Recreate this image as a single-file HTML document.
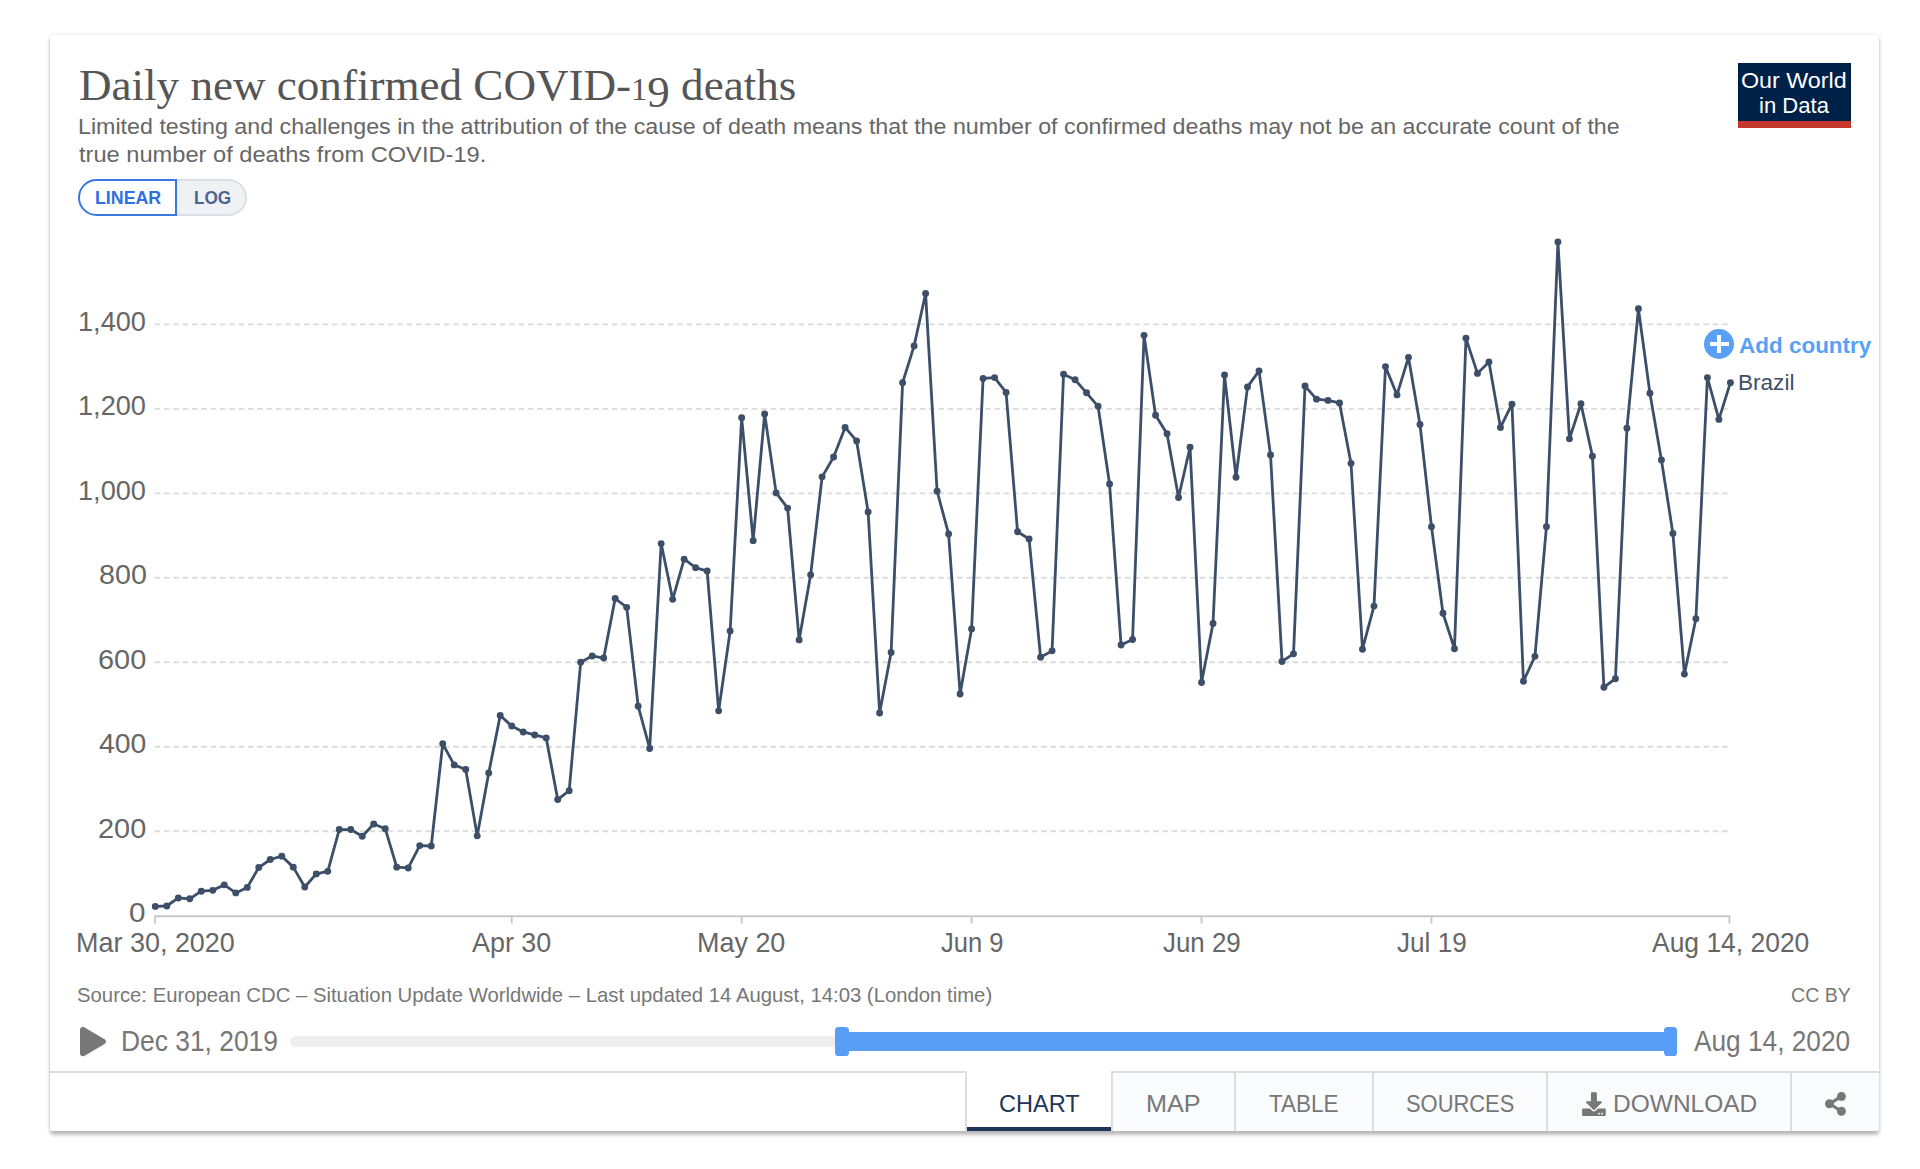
<!DOCTYPE html>
<html lang="en"><head><meta charset="utf-8"><title>Daily new confirmed COVID-19 deaths</title>
<style>
html,body{margin:0;padding:0;background:#fff;}
body{width:1920px;height:1169px;position:relative;overflow:hidden;font-family:"Liberation Sans", "DejaVu Sans", sans-serif;}
.card{position:absolute;left:50px;top:35px;width:1829px;height:1096px;background:#fff;border-radius:3.5px;
  box-shadow:0 0 3.7px rgba(0,0,0,.12),0 3.7px 3.7px rgba(0,0,0,.25);}
.t{position:absolute;white-space:nowrap;line-height:1;transform-origin:0 50%;display:block;font-family:"Liberation Sans", "DejaVu Sans", sans-serif;font-weight:400;}
.t.serif{font-family:"Liberation Serif", "DejaVu Serif", serif;}
.t.b{font-weight:700;}
.o1{font-size:.72em}.o9{position:relative;top:.15em}
.logo{position:absolute;left:1738px;top:63px;width:113px;height:58px;background:#002147;border-bottom:7px solid #c5372c;}
.tog{position:absolute;top:179px;height:36.5px;box-sizing:border-box;}
.tog.lin{left:78px;width:99px;border:2px solid #3a78e0;border-radius:18.5px 0 0 18.5px;background:#fff;}
.tog.log{left:177px;width:69.5px;border:2px solid #dcdee3;border-left:none;border-radius:0 18.5px 18.5px 0;background:#eff1f5;}
.addc{position:absolute;left:1704px;top:329px;width:30px;height:30px;border-radius:50%;background:#589ff6;}
.addc:before{content:"";position:absolute;left:5.7px;top:12.95px;width:19.3px;height:4.15px;background:#fff;}
.addc:after{content:"";position:absolute;left:12.9px;top:5.8px;width:4.15px;height:18.3px;background:#fff;}
.track{position:absolute;left:290px;top:1036.1px;width:1380px;height:10.8px;border-radius:5.4px;background:#eee;}
.range{position:absolute;left:842px;top:1032px;width:829px;height:19px;background:#589ef7;}
.handle{position:absolute;top:1027px;width:13.7px;height:28.9px;border-radius:3.6px;background:#589ef7;}
.tabs{position:absolute;left:50px;top:1071px;width:1829px;height:60px;border-radius:0 0 3.5px 3.5px;overflow:hidden;}
.tabfill{position:absolute;left:0;top:0;width:917px;height:60px;box-sizing:border-box;border-top:2px solid #ddd;border-right:2px solid #ddd;border-top-right-radius:2px;background:#fff;}
.tab{position:absolute;top:0;height:60px;background:#fafbfc;border-left:2px solid #ddd;border-top:2px solid #ddd;box-sizing:border-box;}
.tab.active{background:#fff;border:none;}
.tab.active:after{content:"";position:absolute;left:0;right:0;bottom:0;height:3.8px;background:#1d3557;}
svg.chart{position:absolute;left:0;top:0;}
</style></head><body>
<div class="card"></div>
<div class="logo"></div>
<div class="tog lin"></div><div class="tog log"></div>
<svg class="chart" width="1920" height="1169" viewBox="0 0 1920 1169">
<line x1="154.7" y1="831.23" x2="1730.0" y2="831.23" stroke="#dcdcdc" stroke-width="1.87" stroke-dasharray="5.6 3.73"/>
<line x1="154.7" y1="746.75" x2="1730.0" y2="746.75" stroke="#dcdcdc" stroke-width="1.87" stroke-dasharray="5.6 3.73"/>
<line x1="154.7" y1="662.28" x2="1730.0" y2="662.28" stroke="#dcdcdc" stroke-width="1.87" stroke-dasharray="5.6 3.73"/>
<line x1="154.7" y1="577.80" x2="1730.0" y2="577.80" stroke="#dcdcdc" stroke-width="1.87" stroke-dasharray="5.6 3.73"/>
<line x1="154.7" y1="493.33" x2="1730.0" y2="493.33" stroke="#dcdcdc" stroke-width="1.87" stroke-dasharray="5.6 3.73"/>
<line x1="154.7" y1="408.86" x2="1730.0" y2="408.86" stroke="#dcdcdc" stroke-width="1.87" stroke-dasharray="5.6 3.73"/>
<line x1="154.7" y1="324.38" x2="1730.0" y2="324.38" stroke="#dcdcdc" stroke-width="1.87" stroke-dasharray="5.6 3.73"/>
<line x1="154.0" y1="916.30" x2="1730.3" y2="916.30" stroke="#c8c8c8" stroke-width="1.87"/>
<line x1="154.90" y1="916.30" x2="154.90" y2="923.50" stroke="#c8c8c8" stroke-width="1.87"/>
<line x1="511.71" y1="916.30" x2="511.71" y2="923.50" stroke="#c8c8c8" stroke-width="1.87"/>
<line x1="741.65" y1="916.30" x2="741.65" y2="923.50" stroke="#c8c8c8" stroke-width="1.87"/>
<line x1="971.59" y1="916.30" x2="971.59" y2="923.50" stroke="#c8c8c8" stroke-width="1.87"/>
<line x1="1201.53" y1="916.30" x2="1201.53" y2="923.50" stroke="#c8c8c8" stroke-width="1.87"/>
<line x1="1431.48" y1="916.30" x2="1431.48" y2="923.50" stroke="#c8c8c8" stroke-width="1.87"/>
<line x1="1729.50" y1="916.30" x2="1729.50" y2="923.50" stroke="#c8c8c8" stroke-width="1.87"/>
<path d="M155.30 906.41 L166.80 905.99 L178.29 897.96 L189.79 898.81 L201.29 891.20 L212.79 890.36 L224.28 884.87 L235.78 892.89 L247.28 887.40 L258.77 867.55 L270.27 859.52 L281.77 856.15 L293.26 867.13 L304.76 886.98 L316.26 873.89 L327.76 871.35 L339.25 829.54 L350.75 829.54 L362.25 836.29 L373.74 824.05 L385.24 828.69 L396.74 867.13 L408.24 867.97 L419.73 845.59 L431.23 846.01 L442.73 743.80 L454.22 764.91 L465.72 769.56 L477.22 835.87 L488.72 772.94 L500.21 715.50 L511.71 726.06 L523.21 731.97 L534.70 734.93 L546.20 737.88 L557.70 799.55 L569.19 790.68 L580.69 662.28 L592.19 655.94 L603.69 658.05 L615.18 598.50 L626.68 607.37 L638.18 706.20 L649.67 748.44 L661.17 543.59 L672.67 599.34 L684.17 559.22 L695.66 567.67 L707.16 571.05 L718.66 710.85 L730.15 631.02 L741.65 417.73 L753.15 540.64 L764.65 413.92 L776.14 492.91 L787.64 508.11 L799.14 639.89 L810.63 574.85 L822.13 476.86 L833.63 457.01 L845.12 427.44 L856.62 440.96 L868.12 511.91 L879.62 712.96 L891.11 652.56 L902.61 382.67 L914.11 345.92 L925.60 293.55 L937.10 491.22 L948.60 533.88 L960.10 693.96 L971.59 628.91 L983.09 378.45 L994.59 377.60 L1006.08 392.38 L1017.58 531.77 L1029.08 538.95 L1040.58 657.21 L1052.07 650.87 L1063.57 374.22 L1075.07 379.71 L1086.56 392.81 L1098.06 406.32 L1109.56 484.04 L1121.05 644.96 L1132.55 639.47 L1144.05 335.36 L1155.55 415.19 L1167.04 433.78 L1178.54 497.55 L1190.04 447.29 L1201.53 682.55 L1213.03 623.42 L1224.53 375.07 L1236.03 477.28 L1247.52 386.89 L1259.02 370.84 L1270.52 454.89 L1282.01 661.43 L1293.51 653.83 L1305.01 386.05 L1316.51 399.14 L1328.00 400.41 L1339.50 402.94 L1351.00 463.34 L1362.49 649.18 L1373.99 606.10 L1385.49 366.62 L1396.98 394.92 L1408.48 357.33 L1419.98 424.48 L1431.48 526.70 L1442.97 613.28 L1454.47 648.76 L1465.97 338.32 L1477.46 373.38 L1488.96 361.97 L1500.46 427.44 L1511.96 404.21 L1523.45 681.28 L1534.95 656.36 L1546.45 526.70 L1557.94 242.02 L1569.44 438.84 L1580.94 403.79 L1592.44 456.16 L1603.93 687.20 L1615.43 678.75 L1626.93 428.29 L1638.42 308.75 L1649.92 393.23 L1661.42 459.96 L1672.91 533.46 L1684.41 674.10 L1695.91 618.77 L1707.41 377.60 L1718.90 419.42 L1730.40 382.67" fill="none" stroke="#3d4e68" stroke-width="2.8" stroke-linejoin="round" stroke-linecap="round"/>
<g fill="#3d4e68"><circle cx="155.30" cy="906.41" r="3.45"/><circle cx="166.80" cy="905.99" r="3.45"/><circle cx="178.29" cy="897.96" r="3.45"/><circle cx="189.79" cy="898.81" r="3.45"/><circle cx="201.29" cy="891.20" r="3.45"/><circle cx="212.79" cy="890.36" r="3.45"/><circle cx="224.28" cy="884.87" r="3.45"/><circle cx="235.78" cy="892.89" r="3.45"/><circle cx="247.28" cy="887.40" r="3.45"/><circle cx="258.77" cy="867.55" r="3.45"/><circle cx="270.27" cy="859.52" r="3.45"/><circle cx="281.77" cy="856.15" r="3.45"/><circle cx="293.26" cy="867.13" r="3.45"/><circle cx="304.76" cy="886.98" r="3.45"/><circle cx="316.26" cy="873.89" r="3.45"/><circle cx="327.76" cy="871.35" r="3.45"/><circle cx="339.25" cy="829.54" r="3.45"/><circle cx="350.75" cy="829.54" r="3.45"/><circle cx="362.25" cy="836.29" r="3.45"/><circle cx="373.74" cy="824.05" r="3.45"/><circle cx="385.24" cy="828.69" r="3.45"/><circle cx="396.74" cy="867.13" r="3.45"/><circle cx="408.24" cy="867.97" r="3.45"/><circle cx="419.73" cy="845.59" r="3.45"/><circle cx="431.23" cy="846.01" r="3.45"/><circle cx="442.73" cy="743.80" r="3.45"/><circle cx="454.22" cy="764.91" r="3.45"/><circle cx="465.72" cy="769.56" r="3.45"/><circle cx="477.22" cy="835.87" r="3.45"/><circle cx="488.72" cy="772.94" r="3.45"/><circle cx="500.21" cy="715.50" r="3.45"/><circle cx="511.71" cy="726.06" r="3.45"/><circle cx="523.21" cy="731.97" r="3.45"/><circle cx="534.70" cy="734.93" r="3.45"/><circle cx="546.20" cy="737.88" r="3.45"/><circle cx="557.70" cy="799.55" r="3.45"/><circle cx="569.19" cy="790.68" r="3.45"/><circle cx="580.69" cy="662.28" r="3.45"/><circle cx="592.19" cy="655.94" r="3.45"/><circle cx="603.69" cy="658.05" r="3.45"/><circle cx="615.18" cy="598.50" r="3.45"/><circle cx="626.68" cy="607.37" r="3.45"/><circle cx="638.18" cy="706.20" r="3.45"/><circle cx="649.67" cy="748.44" r="3.45"/><circle cx="661.17" cy="543.59" r="3.45"/><circle cx="672.67" cy="599.34" r="3.45"/><circle cx="684.17" cy="559.22" r="3.45"/><circle cx="695.66" cy="567.67" r="3.45"/><circle cx="707.16" cy="571.05" r="3.45"/><circle cx="718.66" cy="710.85" r="3.45"/><circle cx="730.15" cy="631.02" r="3.45"/><circle cx="741.65" cy="417.73" r="3.45"/><circle cx="753.15" cy="540.64" r="3.45"/><circle cx="764.65" cy="413.92" r="3.45"/><circle cx="776.14" cy="492.91" r="3.45"/><circle cx="787.64" cy="508.11" r="3.45"/><circle cx="799.14" cy="639.89" r="3.45"/><circle cx="810.63" cy="574.85" r="3.45"/><circle cx="822.13" cy="476.86" r="3.45"/><circle cx="833.63" cy="457.01" r="3.45"/><circle cx="845.12" cy="427.44" r="3.45"/><circle cx="856.62" cy="440.96" r="3.45"/><circle cx="868.12" cy="511.91" r="3.45"/><circle cx="879.62" cy="712.96" r="3.45"/><circle cx="891.11" cy="652.56" r="3.45"/><circle cx="902.61" cy="382.67" r="3.45"/><circle cx="914.11" cy="345.92" r="3.45"/><circle cx="925.60" cy="293.55" r="3.45"/><circle cx="937.10" cy="491.22" r="3.45"/><circle cx="948.60" cy="533.88" r="3.45"/><circle cx="960.10" cy="693.96" r="3.45"/><circle cx="971.59" cy="628.91" r="3.45"/><circle cx="983.09" cy="378.45" r="3.45"/><circle cx="994.59" cy="377.60" r="3.45"/><circle cx="1006.08" cy="392.38" r="3.45"/><circle cx="1017.58" cy="531.77" r="3.45"/><circle cx="1029.08" cy="538.95" r="3.45"/><circle cx="1040.58" cy="657.21" r="3.45"/><circle cx="1052.07" cy="650.87" r="3.45"/><circle cx="1063.57" cy="374.22" r="3.45"/><circle cx="1075.07" cy="379.71" r="3.45"/><circle cx="1086.56" cy="392.81" r="3.45"/><circle cx="1098.06" cy="406.32" r="3.45"/><circle cx="1109.56" cy="484.04" r="3.45"/><circle cx="1121.05" cy="644.96" r="3.45"/><circle cx="1132.55" cy="639.47" r="3.45"/><circle cx="1144.05" cy="335.36" r="3.45"/><circle cx="1155.55" cy="415.19" r="3.45"/><circle cx="1167.04" cy="433.78" r="3.45"/><circle cx="1178.54" cy="497.55" r="3.45"/><circle cx="1190.04" cy="447.29" r="3.45"/><circle cx="1201.53" cy="682.55" r="3.45"/><circle cx="1213.03" cy="623.42" r="3.45"/><circle cx="1224.53" cy="375.07" r="3.45"/><circle cx="1236.03" cy="477.28" r="3.45"/><circle cx="1247.52" cy="386.89" r="3.45"/><circle cx="1259.02" cy="370.84" r="3.45"/><circle cx="1270.52" cy="454.89" r="3.45"/><circle cx="1282.01" cy="661.43" r="3.45"/><circle cx="1293.51" cy="653.83" r="3.45"/><circle cx="1305.01" cy="386.05" r="3.45"/><circle cx="1316.51" cy="399.14" r="3.45"/><circle cx="1328.00" cy="400.41" r="3.45"/><circle cx="1339.50" cy="402.94" r="3.45"/><circle cx="1351.00" cy="463.34" r="3.45"/><circle cx="1362.49" cy="649.18" r="3.45"/><circle cx="1373.99" cy="606.10" r="3.45"/><circle cx="1385.49" cy="366.62" r="3.45"/><circle cx="1396.98" cy="394.92" r="3.45"/><circle cx="1408.48" cy="357.33" r="3.45"/><circle cx="1419.98" cy="424.48" r="3.45"/><circle cx="1431.48" cy="526.70" r="3.45"/><circle cx="1442.97" cy="613.28" r="3.45"/><circle cx="1454.47" cy="648.76" r="3.45"/><circle cx="1465.97" cy="338.32" r="3.45"/><circle cx="1477.46" cy="373.38" r="3.45"/><circle cx="1488.96" cy="361.97" r="3.45"/><circle cx="1500.46" cy="427.44" r="3.45"/><circle cx="1511.96" cy="404.21" r="3.45"/><circle cx="1523.45" cy="681.28" r="3.45"/><circle cx="1534.95" cy="656.36" r="3.45"/><circle cx="1546.45" cy="526.70" r="3.45"/><circle cx="1557.94" cy="242.02" r="3.45"/><circle cx="1569.44" cy="438.84" r="3.45"/><circle cx="1580.94" cy="403.79" r="3.45"/><circle cx="1592.44" cy="456.16" r="3.45"/><circle cx="1603.93" cy="687.20" r="3.45"/><circle cx="1615.43" cy="678.75" r="3.45"/><circle cx="1626.93" cy="428.29" r="3.45"/><circle cx="1638.42" cy="308.75" r="3.45"/><circle cx="1649.92" cy="393.23" r="3.45"/><circle cx="1661.42" cy="459.96" r="3.45"/><circle cx="1672.91" cy="533.46" r="3.45"/><circle cx="1684.41" cy="674.10" r="3.45"/><circle cx="1695.91" cy="618.77" r="3.45"/><circle cx="1707.41" cy="377.60" r="3.45"/><circle cx="1718.90" cy="419.42" r="3.45"/><circle cx="1730.40" cy="382.67" r="3.45"/></g>
</svg>
<div class="addc"></div>
<div class="track"></div><div class="range"></div>
<div class="handle" style="left:835px"></div><div class="handle" style="left:1663.7px"></div>
<div class="tabs">
<div class="tabfill"></div>
<div class="tab active" style="left:917.0px;width:144.0px"></div><div class="tab " style="left:1061.0px;width:123.0px"></div><div class="tab " style="left:1184.0px;width:138.0px"></div><div class="tab " style="left:1322.0px;width:174.0px"></div><div class="tab " style="left:1496.0px;width:243.7px"></div><div class="tab " style="left:1739.7px;width:89.3px"></div>
</div>
<svg class="chart" width="1920" height="1169" viewBox="0 0 1920 1169" style="pointer-events:none">
<g fill="#777">
<!-- play icon -->
<path transform="translate(80 1026.9) scale(0.0580 0.0574)" d="M424.400 214.700L72.400 6.600C43.800-10.300 0 6.100 0 47.900V464c0 37.500 40.700 60.100 72.400 41.300l352-208c31.400-18.500 31.500-64.100 0-82.600z"/>
<!-- download icon -->
<path transform="translate(1582.1 1092.3) scale(0.0462)" d="M216 0h80c13.3 0 24 10.7 24 24v168h87.7c17.8 0 26.7 21.5 14.1 34.1L269.7 378.3c-7.500 7.500-19.800 7.500-27.300 0L90.100 226.100c-12.600-12.600-3.700-34.100 14.100-34.100H192V24c0-13.300 10.700-24 24-24zm296 376v112c0 13.300-10.700 24-24 24H24c-13.300 0-24-10.700-24-24V376c0-13.300 10.700-24 24-24h146.700l49 49c20.100 20.100 52.500 20.100 72.600 0l49-49H488c13.300 0 24 10.700 24 24zm-124 88c0-11-9-20-20-20s-20 9-20 20 9 20 20 20 20-9 20-20zm64 0c0-11-9-20-20-20s-20 9-20 20 9 20 20 20 20-9 20-20z"/>
<!-- share icon -->
<path transform="translate(1825 1091.9) scale(0.0467)" d="M352 320c-22.608 0-43.387 7.819-59.790 20.895l-102.486-64.054a96.551 96.551 0 0 0 0-41.683l102.486-64.054C308.613 184.181 329.392 192 352 192c53.019 0 96-42.981 96-96S405.019 0 352 0s-96 42.981-96 96c0 7.158.790 14.130 2.276 20.841L155.790 180.895C139.387 167.819 118.608 160 96 160c-53.019 0-96 42.981-96 96s42.981 96 96 96c22.608 0 43.387-7.819 59.790-20.895l102.486 64.054A96.301 96.301 0 0 0 256 416c0 53.019 42.981 96 96 96s96-42.981 96-96-42.981-96-96-96z"/>
</g>
</svg>
<span class="t serif" id="title" style="left:78.54px;top:63.00px;font-size:45.20px;color:#555;transform:scaleX(0.9976)">Daily new confirmed COVID-<span class="o1">1</span><span class="o9">9</span> deaths</span>
<span class="t" id="sub1" style="left:78.49px;top:115.00px;font-size:22.98px;color:#666;transform:scaleX(1.0121)">Limited testing and challenges in the attribution of the cause of death means that the number of confirmed deaths may not be an accurate count of the</span>
<span class="t" id="sub2" style="left:79.43px;top:143.00px;font-size:22.98px;color:#666;transform:scaleX(1.0291)">true number of deaths from COVID-19.</span>
<span class="t b" id="lin" style="left:94.63px;top:189.00px;font-size:18.20px;color:#2f6fe0;transform:scaleX(0.9782)">LINEAR</span>
<span class="t b" id="log" style="left:193.81px;top:189.00px;font-size:18.20px;color:#4a6590;transform:scaleX(0.9435)">LOG</span>
<span class="t" id="logo1" style="left:1740.92px;top:70.01px;font-size:22.30px;color:#fff;transform:scaleX(1.0447)">Our World</span>
<span class="t" id="logo2" style="left:1758.94px;top:95.01px;font-size:22.30px;color:#fff;transform:scaleX(0.9900)">in Data</span>
<span class="t b" id="add" style="left:1739.45px;top:335.01px;font-size:22.30px;color:#589ff6;transform:scaleX(1.0077)">Add country</span>
<span class="t" id="brazil" style="left:1738.16px;top:372.01px;font-size:22.60px;color:#3d4e66;transform:scaleX(0.9985)">Brazil</span>
<span class="t" id="y0" style="left:129.26px;top:899.01px;font-size:27.40px;color:#666;transform:scaleX(1.0799)">0</span>
<span class="t" id="y200" style="left:97.77px;top:815.01px;font-size:27.40px;color:#666;transform:scaleX(1.0546)">200</span>
<span class="t" id="y400" style="left:98.76px;top:730.00px;font-size:27.40px;color:#666;transform:scaleX(1.0354)">400</span>
<span class="t" id="y600" style="left:98.41px;top:646.01px;font-size:27.40px;color:#666;transform:scaleX(1.0561)">600</span>
<span class="t" id="y800" style="left:98.52px;top:561.01px;font-size:27.40px;color:#666;transform:scaleX(1.0473)">800</span>
<span class="t" id="y1000" style="left:78.30px;top:477.00px;font-size:27.40px;color:#666;transform:scaleX(0.9918)">1,000</span>
<span class="t" id="y1200" style="left:78.30px;top:392.01px;font-size:27.40px;color:#666;transform:scaleX(0.9918)">1,200</span>
<span class="t" id="y1400" style="left:78.30px;top:308.01px;font-size:27.40px;color:#666;transform:scaleX(0.9918)">1,400</span>
<span class="t" id="x0" style="left:75.52px;top:929.00px;font-size:27.40px;color:#666;transform:scaleX(0.9842)">Mar 30, 2020</span>
<span class="t" id="x31" style="left:471.85px;top:929.00px;font-size:27.40px;color:#666;transform:scaleX(0.9827)">Apr 30</span>
<span class="t" id="x51" style="left:696.94px;top:929.00px;font-size:27.40px;color:#666;transform:scaleX(0.9837)">May 20</span>
<span class="t" id="x71" style="left:940.79px;top:929.00px;font-size:27.40px;color:#666;transform:scaleX(0.9324)">Jun 9</span>
<span class="t" id="x91" style="left:1162.82px;top:929.00px;font-size:27.40px;color:#666;transform:scaleX(0.9458)">Jun 29</span>
<span class="t" id="x111" style="left:1396.79px;top:929.00px;font-size:27.40px;color:#666;transform:scaleX(0.9534)">Jul 19</span>
<span class="t" id="x137" style="left:1651.87px;top:929.00px;font-size:27.40px;color:#666;transform:scaleX(0.9654)">Aug 14, 2020</span>
<span class="t" id="src" style="left:77.24px;top:985.01px;font-size:20.57px;color:#777;transform:scaleX(0.9876)">Source: European CDC – Situation Update Worldwide – Last updated 14 August, 14:03 (London time)</span>
<span class="t" id="cc" style="left:1791.33px;top:984.00px;font-size:21.08px;color:#777;transform:scaleX(0.9303)">CC BY</span>
<span class="t" id="d0" style="left:120.85px;top:1027.01px;font-size:29.00px;color:#777;transform:scaleX(0.9097)">Dec 31, 2019</span>
<span class="t" id="d1" style="left:1693.63px;top:1027.01px;font-size:29.00px;color:#777;transform:scaleX(0.9050)">Aug 14, 2020</span>
<span class="t" id="tchart" style="left:998.84px;top:1093.00px;font-size:23.20px;color:#1d3557;transform:scaleX(1.0141)">CHART</span>
<span class="t" id="tmap" style="left:1146.43px;top:1093.00px;font-size:23.20px;color:#777;transform:scaleX(1.0861)">MAP</span>
<span class="t" id="ttable" style="left:1269.12px;top:1093.00px;font-size:23.20px;color:#777;transform:scaleX(0.9697)">TABLE</span>
<span class="t" id="tsrc" style="left:1406.21px;top:1093.00px;font-size:23.20px;color:#777;transform:scaleX(0.9440)">SOURCES</span>
<span class="t" id="tdl" style="left:1612.97px;top:1093.00px;font-size:23.20px;color:#777;transform:scaleX(1.0568)">DOWNLOAD</span>
</body></html>
